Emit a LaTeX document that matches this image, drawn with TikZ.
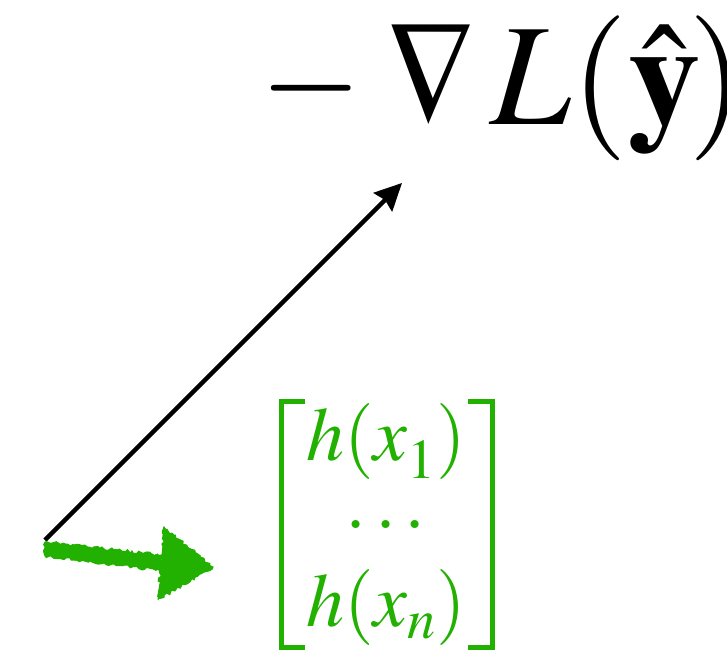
\documentclass[tikz,border=0pt]{standalone}
\usepackage{amsmath}
\usepackage{mathptmx}
\usetikzlibrary{arrows.meta,decorations.pathmorphing}
\definecolor{hgreen}{RGB}{34,177,0}
\newcommand{\thinnabla}{\mathord{\scalebox{0.84}[1]{$\nabla$}}}
\newcommand{\thickminus}{\mathord{\scalebox{0.9}[1]{$\boldsymbol{-}$}}}
\tikzset{
  bigmath/.style={inner sep=0pt, font=\fontsize{145}{150}\selectfont},
  vecmath/.style={inner sep=0pt, text=hgreen, font=\fontsize{76}{83}\selectfont},
  bracket/.style={draw=hgreen, line width=5pt, line join=miter, line cap=butt},
  blackarrow/.style={draw=black, line width=4.5pt, -{Stealth[length=27pt,width=26pt,inset=3pt]}},
  crayon/.style={fill=hgreen, draw=hgreen, line width=1pt,
    decorate, decoration={random steps, segment length=2.5pt, amplitude=1.5pt}}
}
\begin{document}
\begin{tikzpicture}[x=1pt,y=-1pt]
\useasboundingbox (0,0) rectangle (727,652);
\pgfmathsetseed{7}
% top formula
\node[bigmath, anchor=base west] (grad) at (260,125) {$\thickminus\mskip 1.3\medmuskip\thinnabla\, L(\hat{\mathbf{y}}\mskip-1.5mu)$};
% vector
\node[vecmath] (vec) at (386,527) {$\begin{matrix} h(x_{\raisebox{-6pt}{$\scriptstyle 1$}})\\ \cdots \\ h(x_n)\end{matrix}$};
\draw[bracket] (305,401) -- (281,401) -- (281,647) -- (305,647);
\draw[bracket] (468,401) -- (492,401) -- (492,647) -- (468,647);
% black arrow
\coordinate (o) at (45,540);
\coordinate (gtip) at (402,183);
\draw[blackarrow] (o) -- (gtip);
% green crayon arrow
\coordinate (gstart) at (45,548);
\coordinate (htip) at (213,567);
\fill[crayon] (gstart) ++(0,-6) -- (162,555) -- (162,571) -- (45,556) -- cycle;
\fill[crayon] (164,527) -- (htip) -- (158,600) -- cycle;
\end{tikzpicture}
\end{document}
